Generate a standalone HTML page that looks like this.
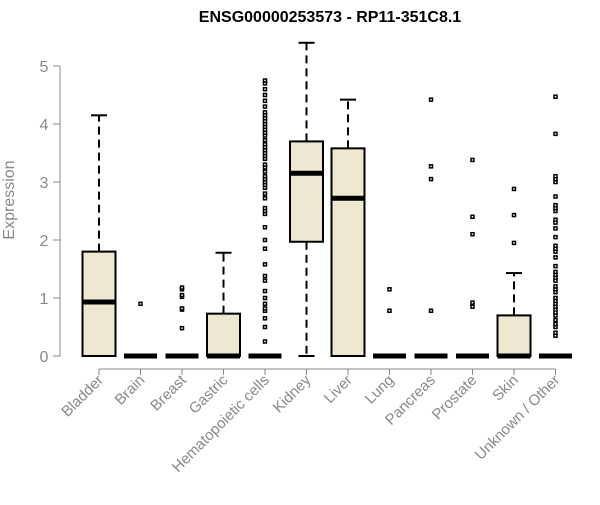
<!DOCTYPE html>
<html><head><meta charset="utf-8"><style>body{margin:0;background:#fff}svg{font-family:"Liberation Sans",Arial,sans-serif}</style></head>
<body>
<svg id="chart" width="600" height="500" xmlns="http://www.w3.org/2000/svg"></svg>
<script>
const categories=["Bladder","Brain","Breast","Gastric","Hematopoietic cells","Kidney","Liver","Lung","Pancreas","Prostate","Skin","Unknown / Other"];
const whiskLo=[0,0,0,0,0,0,0,0,0,0,0,0];
const q1=[0,0,0,0,0,1.97,0,0,0,0,0,0];
const medians=[0.93,0,0,0,0,3.15,2.72,0,0,0,0,0];
const q3=[1.8,0,0,0.73,0,3.7,3.58,0,0,0,0.7,0];
const whiskHi=[4.15,0,0,1.78,0,5.4,4.42,0,0,0,1.43,0];
const outliers=[[],[0.9],[0.48,0.8,0.82,1.02,1.05,1.15,1.18],[],
[0.25,0.5,0.65,0.78,0.82,0.9,1.0,1.12,1.3,1.38,1.58,1.85,2.0,2.22,2.45,2.5,2.55,2.72,2.8,2.9,2.95,3.0,3.05,3.1,3.18,3.25,3.3,3.4,3.45,3.5,3.55,3.6,3.65,3.72,3.8,3.85,3.9,3.95,4.0,4.05,4.1,4.15,4.2,4.3,4.4,4.5,4.6,4.7,4.75],
[],[],[0.78,1.15],[0.78,3.05,3.27,4.42],[0.85,0.92,2.1,2.4,3.38],[1.95,2.43,2.88],
[0.35,0.4,0.5,0.55,0.62,0.7,0.75,0.8,0.85,0.9,0.95,1.0,1.1,1.15,1.2,1.3,1.35,1.4,1.45,1.55,1.7,1.8,1.85,1.9,2.05,2.2,2.3,2.35,2.5,2.55,2.6,2.75,3.0,3.05,3.1,3.83,4.47]];
const yTicks=[0,1,2,3,4,5];
const NS="http://www.w3.org/2000/svg";
const svg=document.getElementById('chart');
const y=v=>356-v*58;
const x=i=>99+i*41.5;
function el(t,a,p){const e=document.createElementNS(NS,t);for(const k in a)e.setAttribute(k,a[k]);(p||svg).appendChild(e);return e;}
let t=el('text',{x:330,y:22,'text-anchor':'middle','font-size':16,'font-weight':'bold',fill:'#000'});t.textContent="ENSG00000253573 - RP11-351C8.1";

let ax=el('g',{});
el('line',{x1:60,x2:60,y1:y(0),y2:y(5),stroke:'#888'},ax);
yTicks.forEach(v=>{el('line',{x1:53,x2:60,y1:y(v),y2:y(v),stroke:'#888'},ax);
const tt=el('text',{x:44,y:y(v)+6,'text-anchor':'middle','font-size':16,fill:'#888'},ax);tt.textContent=v;});
let yt=el('text',{transform:'translate(14,200) rotate(-90)','text-anchor':'middle','font-size':16,fill:'#888'});yt.textContent="Expression";

let xa=el('g',{});
el('line',{x1:x(0),x2:x(11),y1:369,y2:369,stroke:'#888'},xa);
categories.forEach((c,i)=>{el('line',{x1:x(i),x2:x(i),y1:369,y2:375,stroke:'#888'},xa);
const tl=el('text',{transform:`translate(${x(i)+5},${381}) rotate(-45)`,'text-anchor':'end','font-size':15,fill:'#888'},xa);tl.textContent=c;});
categories.forEach((c,i)=>{
const g=el('g',{});
const cx=x(i),w=16.5;
if(whiskHi[i]>q3[i]){el('line',{x1:cx,x2:cx,y1:y(q3[i]),y2:y(whiskHi[i]),stroke:'#000','stroke-width':2,'stroke-dasharray':'8,5'},g);
el('line',{x1:cx-8,x2:cx+8,y1:y(whiskHi[i]),y2:y(whiskHi[i]),stroke:'#000','stroke-width':2},g);}
if(q1[i]>whiskLo[i]){el('line',{x1:cx,x2:cx,y1:y(q1[i]),y2:y(whiskLo[i]),stroke:'#000','stroke-width':2,'stroke-dasharray':'8,5'},g);
el('line',{x1:cx-8,x2:cx+8,y1:y(whiskLo[i]),y2:y(whiskLo[i]),stroke:'#000','stroke-width':2},g);}
if(q3[i]>q1[i])el('rect',{x:cx-w,y:y(q3[i]),width:2*w,height:y(q1[i])-y(q3[i]),fill:'#ede8cf',stroke:'#000','stroke-width':2},g);
el('line',{x1:cx-w,x2:cx+w,y1:y(medians[i]),y2:y(medians[i]),stroke:'#000','stroke-width':5},g);
outliers[i].forEach(v=>el('rect',{x:cx-1.5,y:y(v)-1.5,width:3,height:3,fill:'#fff',stroke:'#000','stroke-width':1.5},g));
});
</script>
</body></html>
